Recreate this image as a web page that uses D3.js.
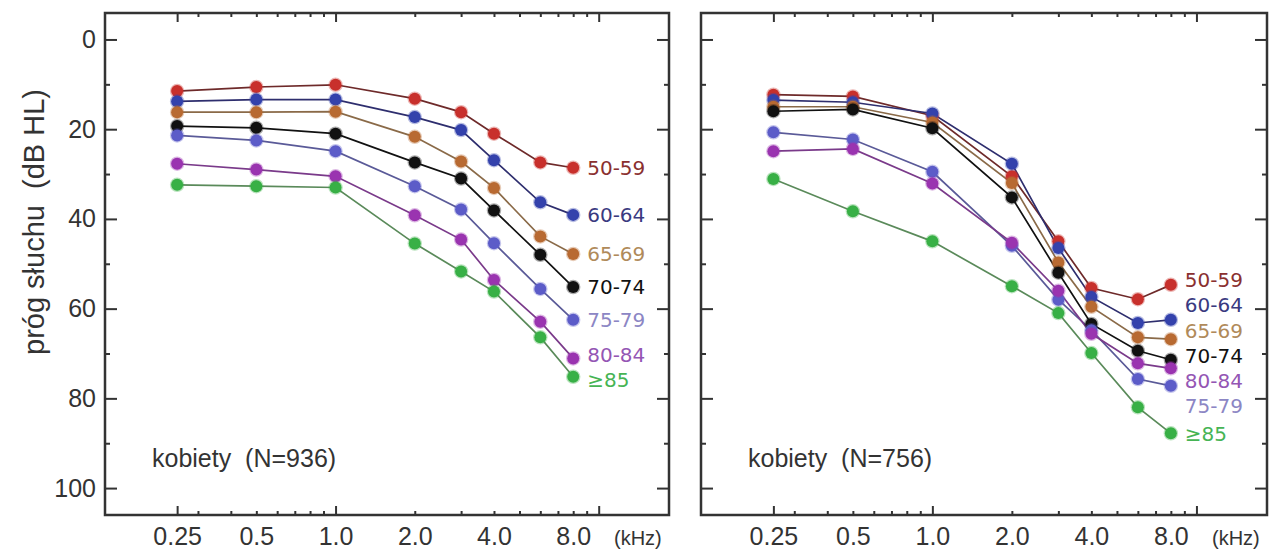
<!DOCTYPE html>
<html><head><meta charset="utf-8">
<script src="https://cdnjs.cloudflare.com/ajax/libs/d3/7.8.5/d3.min.js"></script>
<style>body{margin:0;background:#fff}svg{display:block}</style>
</head><body>
<script>
// ---- data ----
const freqs = [0.25, 0.5, 1, 2, 3, 4, 6, 8];
const groups = ["50-59", "60-64", "65-69", "70-74", "75-79", "80-84", "≥85"];
const xTickLabels = ["0.25", "0.5", "1.0", "2.0", "4.0", "8.0"];
const xTickLabelValues = [0.25, 0.5, 1, 2, 4, 8];
const yTickValues = [0, 20, 40, 60, 80, 100];
const yMinorValues = [10, 30, 50, 70, 90];
const xMajorTicks = [0.25, 1, 10];
const xMinorTicks = [0.3, 0.4, 0.5, 0.6, 0.7, 0.8, 0.9, 2, 3, 4, 5, 6, 7, 8, 9];

// left panel: kobiety (N=936)
const left50 = [11.5, 10.6, 10.1, 13.2, 16.2, 21.0, 27.4, 28.6];
const left60 = [13.8, 13.4, 13.4, 17.3, 20.2, 26.9, 36.3, 39.1];
const left65 = [16.2, 16.2, 16.1, 21.7, 27.2, 33.1, 43.9, 47.8];
const left70 = [19.3, 19.7, 21.0, 27.4, 31.0, 38.1, 48.0, 55.2];
const left75 = [21.4, 22.5, 24.9, 32.7, 37.9, 45.4, 55.6, 62.5];
const left80 = [27.7, 29.0, 30.5, 39.2, 44.6, 53.6, 62.9, 71.1];
const left85 = [32.4, 32.7, 33.0, 45.5, 51.7, 56.2, 66.4, 75.2];

// right panel: kobiety (N=756)
const right50 = [12.3, 12.7, 17.0, 30.5, 45.0, 55.4, 57.9, 54.7];
const right60 = [13.5, 14.0, 16.5, 27.7, 46.5, 57.4, 63.2, 62.5];
const right65 = [15.0, 15.0, 18.5, 32.0, 49.7, 59.6, 66.4, 66.8];
const right70 = [16.0, 15.6, 19.8, 35.2, 52.0, 63.4, 69.4, 71.4];
const right75 = [20.7, 22.3, 29.5, 46.0, 58.0, 64.8, 75.7, 77.2];
const right80 = [24.9, 24.4, 32.1, 45.3, 56.0, 65.6, 72.2, 73.3];
const right85 = [31.1, 38.3, 45.0, 55.0, 61.0, 69.9, 82.0, 87.8];

const notes = ["kobiety  (N=936)", "kobiety  (N=756)"];

// ---- styles ----
const markerColors = ["#c8302c", "#3442ac", "#b86a32", "#111111", "#5c5cc8", "#9a34b0", "#38b046"];
const lineColors   = ["#6e2a2a", "#2e2e6e", "#8a6a48", "#111111", "#5a5a98", "#7a3a8a", "#5a8a5a"];
const labelColors  = ["#8a3030", "#3a3a80", "#b08a5a", "#111111", "#8c86c4", "#9456b4", "#46b454"];

const W = 1281, H = 557;
const svg = d3.select("body").append("svg").attr("width", W).attr("height", H);

const plotTop = 13, plotBottom = 515;
const y = d3.scaleLinear().domain([-5.9, 106]).range([plotTop, plotBottom]);

const panels = [
  {x0: 105, x1: 669, series: [left50, left60, left65, left70, left75, left80, left85], note: notes[0], yLabels: true},
  {x0: 701, x1: 1267, series: [right50, right60, right65, right70, right75, right80, right85], note: notes[1], yLabels: false}
];

// label placement: non-overlapping (isotonic) positions near last values
function spreadLabels(vals, gap) {
  const order = vals.map((v, i) => i).sort((a, b) => vals[a] - vals[b]);
  const a = order.map(i => vals[i]);
  const b = a.map((v, k) => v - k * gap);
  let blocks = [];
  b.forEach((v) => {
    blocks.push({sum: v, n: 1});
    while (blocks.length > 1 && blocks[blocks.length - 2].sum / blocks[blocks.length - 2].n > blocks[blocks.length - 1].sum / blocks[blocks.length - 1].n) {
      const l = blocks.pop();
      blocks[blocks.length - 1].sum += l.sum;
      blocks[blocks.length - 1].n += l.n;
    }
  });
  const fitted = [];
  blocks.forEach(bl => { for (let k = 0; k < bl.n; k++) fitted.push(bl.sum / bl.n); });
  const out = new Array(vals.length);
  order.forEach((idx, k) => { out[idx] = fitted[k] + k * gap; });
  return out;
}

const font = "'Liberation Sans', Arial, Helvetica, sans-serif";

panels.forEach((p, pi) => {
  const x = d3.scaleLog().domain([0.133, 18.5]).range([p.x0, p.x1]);
  const g = svg.append("g");

  // frame
  g.append("rect").attr("x", p.x0).attr("y", plotTop).attr("width", p.x1 - p.x0).attr("height", plotBottom - plotTop)
    .attr("fill", "none").attr("stroke", "#333").attr("stroke-width", 2.5);

  const tickStyle = sel => { sel.select(".domain").remove(); sel.selectAll("line").attr("stroke", "#333").attr("stroke-width", 2); sel.selectAll("text").remove(); };
  g.append("g").attr("transform", `translate(0,${plotBottom})`).call(d3.axisBottom(x).tickValues(xMajorTicks).tickSize(-9).tickFormat("")).call(tickStyle);
  g.append("g").attr("transform", `translate(0,${plotBottom})`).call(d3.axisBottom(x).tickValues(xMinorTicks).tickSize(-4).tickFormat("")).call(tickStyle);
  g.append("g").attr("transform", `translate(0,${plotTop})`).call(d3.axisTop(x).tickValues(xMajorTicks).tickSize(-9).tickFormat("")).call(tickStyle);
  g.append("g").attr("transform", `translate(0,${plotTop})`).call(d3.axisTop(x).tickValues(xMinorTicks).tickSize(-4).tickFormat("")).call(tickStyle);

  const xl = g.append("g").attr("transform", `translate(0,${plotBottom})`)
    .call(d3.axisBottom(x).tickValues(xTickLabelValues).tickSize(0).tickPadding(12)
      .tickFormat((d, i) => xTickLabels[i]));
  xl.select(".domain").remove();
  xl.selectAll("text").attr("font-family", font).attr("font-size", 25).attr("fill", "#333");

  g.append("g").attr("transform", `translate(${p.x0},0)`).call(d3.axisLeft(y).tickValues(yTickValues).tickSize(-12).tickFormat("")).call(tickStyle);
  g.append("g").attr("transform", `translate(${p.x0},0)`).call(d3.axisLeft(y).tickValues(yMinorValues).tickSize(-5).tickFormat("")).call(tickStyle);
  g.append("g").attr("transform", `translate(${p.x1},0)`).call(d3.axisRight(y).tickValues(yTickValues).tickSize(-12).tickFormat("")).call(tickStyle);
  g.append("g").attr("transform", `translate(${p.x1},0)`).call(d3.axisRight(y).tickValues(yMinorValues).tickSize(-5).tickFormat("")).call(tickStyle);

  if (p.yLabels) {
    const yl = g.append("g").attr("transform", `translate(${p.x0},0)`)
      .call(d3.axisLeft(y).tickValues(yTickValues).tickSize(0).tickPadding(9));
    yl.select(".domain").remove();
    yl.selectAll("text").attr("font-family", font).attr("font-size", 25).attr("fill", "#333");
  }

  g.append("text").attr("x", p.x1 - 55).attr("y", plotBottom + 23).attr("dy", "0.35em")
    .attr("font-family", font).attr("font-size", 20).attr("fill", "#333").text("(kHz)");

  g.append("text").attr("x", p.x0 + 47).attr("y", 467)
    .attr("font-family", font).attr("font-size", 25).attr("fill", "#333")
    .attr("xml:space", "preserve").style("white-space", "pre").text(p.note);

  const line = d3.line().x((d, i) => x(freqs[i])).y(d => y(d));
  p.series.forEach((s, si) => {
    g.append("path").datum(s).attr("d", line).attr("fill", "none")
      .attr("stroke", lineColors[si]).attr("stroke-width", 1.7);
  });
  p.series.forEach((s, si) => {
    g.selectAll(null).data(s).enter().append("circle")
      .attr("cx", (d, i) => x(freqs[i])).attr("cy", d => y(d)).attr("r", 6)
      .attr("fill", markerColors[si]).attr("stroke", markerColors[si]).attr("stroke-opacity", 0.35).attr("stroke-width", 2.5);
  });

  const lastVals = p.series.map(s => s[s.length - 1]);
  const ly = spreadLabels(lastVals, 5.6);
  groups.forEach((gname, si) => {
    g.append("text").attr("x", x(freqs[freqs.length - 1]) + 14).attr("y", y(ly[si])).attr("dy", "0.36em")
      .attr("font-family", "'DejaVu Sans', sans-serif").attr("font-size", 20)
      .attr("fill", labelColors[si]).text(gname);
  });
});

svg.append("text").attr("transform", `translate(44,222) rotate(-90)`).attr("text-anchor", "middle")
  .attr("font-family", font).attr("font-size", 29).attr("fill", "#333").attr("xml:space", "preserve")
  .style("white-space", "pre").text("próg słuchu  (dB HL)");
</script>
</body></html>
